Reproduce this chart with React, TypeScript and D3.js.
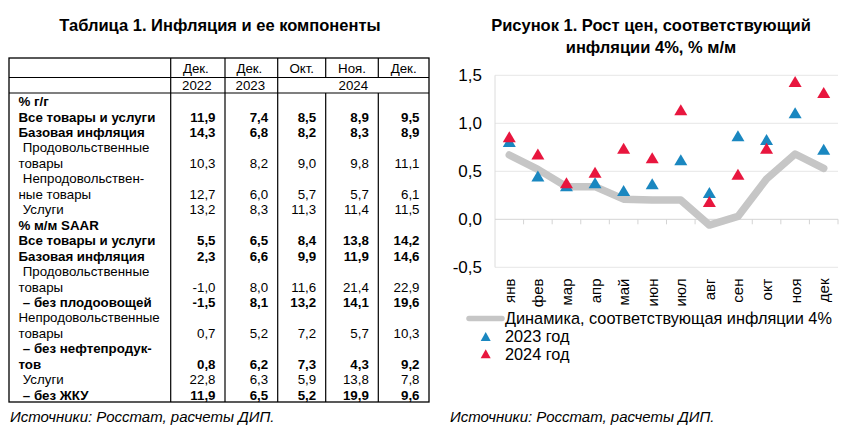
import React from 'react';
import * as d3 from 'd3';

// ---------- Table data ----------
const tableTitle = 'Таблица 1. Инфляция и ее компоненты';
const colHeads = ['Дек.', 'Дек.', 'Окт.', 'Ноя.', 'Дек.'];
const yearHeads = ['2022', '2023', '2024'];
const rowLines: string[][] = [
  ['% г/г'],
  ['Все товары и услуги'],
  ['Базовая инфляция'],
  [' Продовольственные', 'товары'],
  [' Непродовольствен-', 'ные товары'],
  [' Услуги'],
  ['% м/м SAAR'],
  ['Все товары и услуги'],
  ['Базовая инфляция'],
  [' Продовольственные', 'товары'],
  [' – без плодоовощей'],
  ['Непродовольственные', 'товары'],
  [' – без нефтепродук-', 'тов'],
  [' Услуги'],
  [' – без ЖКУ'],
];
const rowBold = [true, true, true, false, false, false, true, true, true, false, true, false, true, false, true];
const rowValues: (string[] | null)[] = [
  null,
  ['11,9', '7,4', '8,5', '8,9', '9,5'],
  ['14,3', '6,8', '8,2', '8,3', '8,9'],
  ['10,3', '8,2', '9,0', '9,8', '11,1'],
  ['12,7', '6,0', '5,7', '5,7', '6,1'],
  ['13,2', '8,3', '11,3', '11,4', '11,5'],
  null,
  ['5,5', '6,5', '8,4', '13,8', '14,2'],
  ['2,3', '6,6', '9,9', '11,9', '14,6'],
  ['-1,0', '8,0', '11,6', '21,4', '22,9'],
  ['-1,5', '8,1', '13,2', '14,1', '19,6'],
  ['0,7', '5,2', '7,2', '5,7', '10,3'],
  ['0,8', '6,2', '7,3', '4,3', '9,2'],
  ['22,8', '6,3', '5,9', '13,8', '7,8'],
  ['11,9', '6,5', '5,2', '19,9', '9,6'],
];
const sourceText = 'Источники: Росстат, расчеты ДИП.';

// ---------- Chart data ----------
const chartTitle1 = 'Рисунок 1. Рост цен, соответствующий';
const chartTitle2 = 'инфляции 4%, % м/м';
const months = ['янв', 'фев', 'мар', 'апр', 'май', 'июн', 'июл', 'авг', 'сен', 'окт', 'ноя', 'дек'];
const target4 = [0.67, 0.52, 0.34, 0.34, 0.21, 0.2, 0.2, -0.06, 0.03, 0.42, 0.68, 0.53];
const y2023 = [0.81, 0.45, 0.35, 0.38, 0.3, 0.37, 0.62, 0.28, 0.87, 0.83, 1.11, 0.73];
const y2024 = [0.86, 0.68, 0.38, 0.49, 0.74, 0.64, 1.14, 0.185, 0.47, 0.74, 1.435, 1.32];
const yTicks = [-0.5, 0, 0.5, 1, 1.5];
const legendLabels = ['Динамика, соответствующая инфляции 4%', '2023 год', '2024 год'];

const FONT = '"Liberation Sans", Arial, Helvetica, sans-serif';
const BLUE = '#1a87c0';
const RED = '#e8163e';
const GRAY = '#c6c6c6';
const TFS = 13.3;

function tri(cx: number, cy: number, w: number, h: number) {
  return `M${cx},${cy - h / 2}L${cx + w / 2},${cy + h / 2}L${cx - w / 2},${cy + h / 2}Z`;
}

function Table() {
  const left = 9, right = 429, top = 58, r1 = 77.5, r2 = 93, bottom = 402;
  const colX = [170.7, 225, 277.7, 325.7, 378.3];
  const colEdges = [...colX, right];
  const lineStart = 101.5, lineStep = 15.45;
  let lineIdx = 0;
  const items: React.ReactNode[] = [];
  rowLines.forEach((lines, ri) => {
    lines.forEach((ln, li) => {
      const cy = lineStart + lineIdx * lineStep;
      const indent = ln.startsWith(' ') ? 4.3 : 0;
      items.push(
        <text key={`l${ri}-${li}`} x={18.5 + indent} y={cy + 4.6} fontSize={TFS}
          fontWeight={rowBold[ri] ? 'bold' : 'normal'}>{ln.trim()}</text>
      );
      if (li === lines.length - 1 && rowValues[ri]) {
        rowValues[ri]!.forEach((v, ci) => {
          items.push(
            <text key={`v${ri}-${ci}`} x={colEdges[ci + 1] - 9.5} y={cy + 4.6} fontSize={TFS}
              textAnchor="end" fontWeight={rowBold[ri] ? 'bold' : 'normal'}>{v}</text>
          );
        });
      }
      lineIdx++;
    });
  });
  const colCenters = colEdges.slice(0, 5).map((x, i) => (x + colEdges[i + 1]) / 2);
  return (
    <g fontFamily={FONT} fill="#000">
      <text x={220} y={31} fontSize={16.5} fontWeight="bold" textAnchor="middle">{tableTitle}</text>
      <rect x={left} y={top} width={right - left} height={bottom - top} fill="none" stroke="#000" strokeWidth={1.3} />
      <line x1={left} x2={right} y1={r1} y2={r1} stroke="#000" strokeWidth={1.2} />
      <line x1={left} x2={right} y1={r2} y2={r2} stroke="#000" strokeWidth={1.2} />
      {colX.map((x, i) => (
        <React.Fragment key={i}>
          <line x1={x} x2={x} y1={top} y2={r1} stroke="#000" strokeWidth={1.2} />
          {i < 3 && <line x1={x} x2={x} y1={r1} y2={r2} stroke="#000" strokeWidth={1.2} />}
          <line x1={x} x2={x} y1={r2} y2={bottom} stroke="#000" strokeWidth={1.2} />
        </React.Fragment>
      ))}
      {colHeads.map((h, i) => (
        <text key={`h${i}`} x={colCenters[i] - (i < 2 ? 2 : 0)} y={72.5} fontSize={TFS} textAnchor="middle">{h}</text>
      ))}
      <text x={colCenters[0] - 1} y={90} fontSize={TFS} textAnchor="middle">{yearHeads[0]}</text>
      <text x={colCenters[1] - 1} y={90} fontSize={TFS} textAnchor="middle">{yearHeads[1]}</text>
      <text x={(colX[2] + right) / 2} y={90} fontSize={TFS} textAnchor="middle">{yearHeads[2]}</text>
      {items}
      <text x={10} y={421.5} fontSize={15} fontStyle="italic">{sourceText}</text>
    </g>
  );
}

function Chart() {
  const x0 = 495, x1 = 838;
  const x = d3.scaleBand<string>().domain(months).range([x0, x1]).paddingInner(0).paddingOuter(0);
  const y = d3.scaleLinear().domain([-0.5, 1.5]).range([267.3, 75.3]);
  const cx = (m: string) => (x(m) as number) + x.bandwidth() / 2;
  const fmt = (v: number) => d3.format('.1f')(v).replace('.', ',').replace('−', '-');
  const line = d3.line<number>().x((_, i) => cx(months[i])).y((d) => y(d));
  return (
    <g fontFamily={FONT} fill="#000">
      <text x={651} y={31} fontSize={16.5} fontWeight="bold" textAnchor="middle">{chartTitle1}</text>
      <text x={651} y={52.5} fontSize={16.5} fontWeight="bold" textAnchor="middle">{chartTitle2}</text>
      {yTicks.map((t) => (
        <g key={t}>
          {t !== 0 && <line x1={x0} x2={x1} y1={y(t)} y2={y(t)} stroke="#e6e6e6" strokeWidth={1} />}
          <text x={482} y={y(t) + 6} fontSize={17} textAnchor="end">{fmt(t)}</text>
        </g>
      ))}
      <line x1={x0} x2={x0} y1={y(1.5)} y2={y(-0.5)} stroke="#dcdcdc" strokeWidth={1} />
      <line x1={x0} x2={x1} y1={y(0)} y2={y(0)} stroke="#d4d4d4" strokeWidth={1} />
      {months.map((m, i) => (
        <line key={`tk${i}`} x1={(x(m) as number) + x.bandwidth()} x2={(x(m) as number) + x.bandwidth()}
          y1={y(0)} y2={y(0) + 5} stroke="#d4d4d4" strokeWidth={1} />
      ))}
      <path d={line(target4) || ''} fill="none" stroke={GRAY} strokeWidth={7.5} strokeLinejoin="round" strokeLinecap="round" />
      {y2023.map((v, i) => (
        <path key={`b${i}`} d={tri(cx(months[i]), y(v), 13, 11)} fill={BLUE} />
      ))}
      {y2024.map((v, i) => (
        <path key={`r${i}`} d={tri(cx(months[i]), y(v), 13, 11)} fill={RED} />
      ))}
      {months.map((m, i) => (
        <text key={`m${i}`} transform={`translate(${cx(m) + 5.5},${278.5}) rotate(-90)`} fontSize={15} textAnchor="end">{m}</text>
      ))}
      <line x1={469} x2={502} y1={318.5} y2={318.5} stroke={GRAY} strokeWidth={5.5} strokeLinecap="round" />
      <text x={505} y={323.8} fontSize={16.3}>{legendLabels[0]}</text>
      <path d={tri(485.7, 336.5, 10, 9)} fill={BLUE} />
      <text x={505} y={341.8} fontSize={16.3}>{legendLabels[1]}</text>
      <path d={tri(485.7, 353.8, 10, 9)} fill={RED} />
      <text x={505} y={359.6} fontSize={16.3}>{legendLabels[2]}</text>
      <text x={450} y={421.5} fontSize={15} fontStyle="italic">{sourceText}</text>
    </g>
  );
}

export default function App() {
  return (
    <svg width={857} height={438} style={{ position: 'absolute', left: 0, top: 0, background: '#fff' }}>
      <rect x={0} y={0} width={857} height={438} fill="#fff" />
      <Table />
      <Chart />
    </svg>
  );
}
